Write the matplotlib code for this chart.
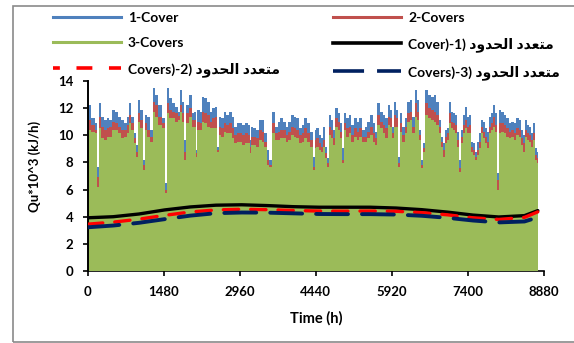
import matplotlib
matplotlib.use("Agg")
import matplotlib.pyplot as plt
from matplotlib.lines import Line2D
from matplotlib.patches import Rectangle
from matplotlib.font_manager import FontProperties

# hourly useful heat gain, peak envelope (Qu * 10^3 kJ/h)
hours = [
    0, 36, 113, 178, 204, 243, 295, 347, 399, 450, 502, 567, 632, 684, 736, 788,
    827, 878, 930, 956, 995, 1047, 1099, 1138, 1190, 1241, 1293, 1345, 1410, 1475,
    1527, 1572, 1617, 1669, 1734, 1773, 1812, 1864, 1903, 1942, 1994, 2058,
    2091, 2123, 2156, 2208, 2253, 2298, 2350, 2402, 2448, 2493, 2532, 2571, 2623,
    2674, 2726, 2778, 2830, 2882, 2934, 2986, 3038, 3089, 3141, 3167, 3193, 3245,
    3297, 3362, 3414, 3465, 3517, 3556, 3621, 3673, 3725, 3777, 3828, 3880, 3932,
    3984, 4036, 4088, 4140, 4192, 4243, 4295,
    4380, 4406, 4432, 4471, 4522, 4574, 4600, 4639, 4678, 4717, 4756, 4795, 4847,
    4886, 4924, 4963, 5002, 5054, 5106, 5158, 5210, 5262, 5313, 5365, 5417, 5469,
    5521, 5573, 5612, 5664, 5715, 5767, 5819, 5858, 5897, 5936, 5975, 6014, 6053,
    6091, 6143, 6195, 6247, 6286, 6338, 6390, 6429, 6467, 6506, 6545,
    6590, 6655, 6707, 6758, 6810, 6849, 6888, 6927, 6966, 7005, 7044, 7083, 7122,
    7173, 7212, 7238, 7277, 7316, 7355, 7394, 7433, 7472, 7511, 7550, 7588, 7627,
    7666, 7705, 7744, 7783, 7822, 7861, 7900, 7938, 7977, 8029, 8068, 8120, 8172,
    8224, 8263, 8315, 8366, 8418, 8457, 8496, 8535, 8574, 8613, 8651, 8690, 8729,
    8760,
]
cover1 = [
    8.90, 12.24, 11.25, 10.88, 7.69, 12.36, 11.38, 11.13, 11.25, 11.13, 11.87, 11.74,
    11.38, 11.13, 10.88, 11.38, 12.36, 11.38, 10.15, 9.29, 12.60, 11.87, 8.18, 11.50,
    11.38, 10.39, 13.46, 12.97, 12.24, 11.25, 6.46, 13.50, 12.73, 12.36, 12.11, 11.74,
    13.34, 12.48, 9.66, 12.24, 12.97, 11.62,
    11.74, 8.92, 11.87, 11.74, 12.85, 12.73, 12.48, 11.74, 11.99, 12.11, 9.16, 11.38,
    11.25, 11.74, 11.50, 11.74, 11.38, 10.64, 10.88, 10.88, 10.76, 10.88, 10.76, 9.66,
    10.64, 10.52, 10.39, 11.13, 11.13, 10.15, 8.92, 8.18, 11.74, 10.64, 11.01, 11.25,
    11.01, 10.64, 11.01, 11.50, 11.38, 11.25, 10.52, 10.76, 11.25, 10.88,
    10.27, 8.43, 10.39, 10.52, 10.02, 9.78, 10.64, 9.16, 8.30, 11.50, 11.13, 10.39,
    11.99, 11.62, 10.88, 9.04, 11.62, 11.25, 11.50, 10.76, 11.25, 11.01, 11.25, 10.39,
    10.64, 11.01, 11.50, 10.88, 10.27, 12.36, 11.74, 11.50, 11.25, 12.24, 11.87, 10.64,
    12.48, 11.87, 8.43, 11.62, 10.64, 11.25, 12.48, 12.60, 11.38, 13.34, 12.60, 10.39,
    8.18, 9.41,
    13.34, 12.97, 12.85, 12.97, 12.48, 11.13, 9.90, 9.41, 10.39, 10.52, 12.48, 11.74,
    11.62, 11.50, 10.27, 8.18, 10.39, 11.50, 12.11, 11.38, 11.50, 9.53, 9.41, 8.80,
    9.53, 10.15, 11.13, 11.01, 10.52, 10.27, 11.38, 11.62, 12.24, 11.62, 7.20, 11.87,
    11.74, 11.50, 11.25, 10.88, 11.01, 10.88, 11.25, 11.13, 10.39, 10.02, 11.13, 10.76,
    10.64, 10.15, 10.88, 9.04, 8.80,
]
cover2 = [
    8.50, 11.13, 10.76, 10.39, 6.95, 11.38, 10.64, 10.39, 10.52, 10.64, 11.00, 10.88,
    10.64, 10.39, 10.39, 10.76, 11.50, 10.88, 9.78, 8.80, 11.62, 11.13, 7.81, 10.88,
    10.39, 9.90, 12.48, 12.24, 11.38, 10.88, 5.97, 12.36, 11.87, 11.74, 11.62, 11.45,
    12.24, 11.62, 8.80, 11.62, 11.99, 11.13,
    11.13, 8.67, 11.01, 10.88, 11.74, 11.62, 11.50, 11.01, 11.25, 11.38, 8.92, 10.64,
    10.52, 10.88, 10.76, 10.88, 10.52, 10.02, 10.15, 10.15, 10.02, 10.15, 10.02, 9.16,
    9.90, 9.90, 9.78, 10.39, 10.27, 9.53, 8.18, 7.81, 10.88, 10.15, 10.27, 10.39,
    10.39, 10.02, 10.27, 10.64, 10.52, 10.39, 10.02, 10.15, 10.52, 10.15,
    9.66, 7.69, 9.66, 9.78, 9.41, 9.16, 9.66, 8.67, 7.94, 10.64, 10.39, 9.78,
    11.25, 11.01, 10.27, 8.18, 10.88, 10.52, 10.64, 10.02, 10.52, 10.27, 10.52, 9.90,
    9.90, 10.27, 10.64, 10.15, 9.78, 11.50, 11.01, 10.76, 10.52, 11.38, 11.25, 10.15,
    11.50, 11.25, 7.94, 10.88, 10.02, 10.64, 11.62, 11.74, 10.64, 12.36, 11.74, 10.02,
    7.81, 9.04,
    12.36, 11.99, 11.87, 11.74, 11.50, 10.64, 9.53, 8.92, 9.90, 10.15, 11.62, 11.01,
    10.88, 10.76, 9.66, 7.57, 9.90, 10.76, 11.13, 10.64, 10.76, 9.16, 8.92, 8.43,
    8.92, 9.53, 10.64, 10.27, 9.90, 9.53, 10.64, 10.88, 11.38, 10.76, 6.71, 10.88,
    10.88, 10.76, 10.52, 10.27, 10.39, 10.15, 10.52, 10.39, 9.78, 9.41, 10.39, 10.15,
    10.02, 9.66, 10.15, 8.55, 8.30,
]
cover3 = [
    8.00, 10.39, 10.27, 10.15, 6.22, 10.52, 9.78, 9.66, 9.90, 9.90, 10.39, 10.39,
    10.15, 9.78, 9.90, 10.15, 10.88, 10.39, 9.41, 8.43, 11.00, 10.52, 7.44, 10.39,
    9.90, 9.53, 11.74, 11.38, 10.76, 10.52, 5.72, 11.62, 11.25, 11.25, 11.00, 11.10,
    11.74, 11.00, 8.18, 10.88, 11.38, 10.64,
    10.64, 8.43, 10.39, 10.39, 11.01, 10.88, 10.64, 10.52, 10.52, 10.52, 8.80, 10.02,
    9.90, 10.27, 10.15, 10.15, 9.78, 9.41, 9.53, 9.53, 9.29, 9.41, 9.41, 8.67,
    9.29, 9.29, 9.16, 9.66, 9.53, 9.16, 7.81, 7.69, 10.15, 9.66, 9.66, 9.78,
    9.78, 9.53, 9.66, 10.02, 9.90, 9.78, 9.41, 9.53, 9.78, 9.53,
    9.16, 7.44, 9.04, 9.16, 8.92, 8.80, 9.16, 8.30, 7.69, 10.02, 9.78, 9.29,
    10.64, 10.39, 9.78, 7.94, 10.39, 9.90, 10.15, 9.53, 9.90, 9.66, 9.90, 9.53,
    9.53, 9.78, 10.02, 9.53, 9.29, 10.76, 10.52, 10.15, 9.78, 10.76, 10.64, 9.78,
    10.64, 10.64, 7.69, 10.27, 9.53, 10.15, 11.01, 11.13, 10.15, 11.38, 11.13, 9.66,
    7.57, 8.80,
    11.50, 11.25, 11.13, 11.01, 10.76, 10.15, 9.16, 8.43, 9.41, 9.66, 10.88, 10.52,
    10.39, 10.15, 9.16, 7.32, 9.41, 10.15, 10.52, 10.15, 10.15, 8.80, 8.55, 8.18,
    8.55, 9.04, 10.15, 9.78, 9.41, 9.04, 10.15, 10.39, 10.64, 10.27, 5.97, 10.15,
    10.27, 10.15, 9.90, 9.78, 9.90, 9.66, 10.02, 9.90, 9.29, 8.80, 9.90, 9.66,
    9.53, 9.16, 9.66, 8.18, 7.94,
]

# polynomial trend lines of the full hourly series
trend_hours = [0, 500, 1000, 1500, 2000, 2500, 3000, 3500, 4000, 4500,
               5000, 5500, 6000, 6500, 7000, 7500, 8000, 8500, 8760]
trend1 = [3.92, 4.00, 4.20, 4.50, 4.72, 4.85, 4.88, 4.82, 4.74, 4.70,
          4.70, 4.70, 4.64, 4.52, 4.34, 4.12, 3.98, 4.08, 4.45]
trend2 = [3.45, 3.60, 3.82, 4.10, 4.35, 4.50, 4.55, 4.52, 4.46, 4.42,
          4.41, 4.42, 4.40, 4.30, 4.14, 3.92, 3.80, 3.95, 4.36]
trend3 = [3.22, 3.35, 3.55, 3.82, 4.08, 4.26, 4.31, 4.30, 4.25, 4.20,
          4.19, 4.19, 4.16, 4.07, 3.92, 3.72, 3.58, 3.65, 3.95]

series_names = ["1-Cover", "2-Covers", "3-Covers"]
trend_names = ["Cover)-1)", "Covers)-2)", "Covers)-3)"]
poly_word = "متعدد الحدود"

xticks = [0, 1480, 2960, 4440, 5920, 7400, 8880]
yticks = [0, 2, 4, 6, 8, 10, 12, 14]

BLUE = "#4F81BD"
RED = "#C0504D"
GREEN = "#9BBB59"

# Arabic presentation forms: isolated, final, initial, medial
FORMS = {
    "\u0627": ("\uFE8D", "\uFE8E", None, None),
    "\u062A": ("\uFE95", "\uFE96", "\uFE97", "\uFE98"),
    "\u062D": ("\uFEA1", "\uFEA2", "\uFEA3", "\uFEA4"),
    "\u062F": ("\uFEA9", "\uFEAA", None, None),
    "\u0639": ("\uFEC9", "\uFECA", "\uFECB", "\uFECC"),
    "\u0644": ("\uFEDD", "\uFEDE", "\uFEDF", "\uFEE0"),
    "\u0645": ("\uFEE1", "\uFEE2", "\uFEE3", "\uFEE4"),
    "\u0648": ("\uFEED", "\uFEEE", None, None),
}


def shape_arabic(text):
    # matplotlib lays text out left to right without joining, so pick the
    # contextual glyphs here and return them in visual order
    out = []
    for i, ch in enumerate(text):
        forms = FORMS.get(ch)
        if forms is None:
            out.append(ch)
            continue
        prev = text[i - 1] if i > 0 else ""
        nxt = text[i + 1] if i + 1 < len(text) else ""
        joins_prev = prev in FORMS and FORMS[prev][2] is not None
        joins_next = forms[2] is not None and nxt in FORMS
        if joins_prev and joins_next:
            out.append(forms[3])
        elif joins_prev:
            out.append(forms[1])
        elif joins_next:
            out.append(forms[2])
        else:
            out.append(forms[0])
    return "".join(reversed(out))


plt.rcParams["font.family"] = ["Lato", "DejaVu Sans"]
plt.rcParams["font.weight"] = "bold"

W, H = 574, 343
fig = plt.figure(figsize=(W / 100, H / 100), dpi=100)
ax = fig.add_axes([87.5 / W, 1 - 271 / H, 456.5 / W, 190 / H])

for vals, color in zip([cover1, cover2, cover3], [BLUE, RED, GREEN]):
    ax.fill_between(hours, vals, 0, step="mid", color=color, lw=0, zorder=1)

ax.plot(trend_hours, trend1, color="black", lw=2.4, zorder=4,
        solid_capstyle="round")
ax.plot(trend_hours, trend2, color="#FF0000", lw=2.4, zorder=4,
        linestyle=(0, (4.6, 3.6)), dash_capstyle="round")
ax.plot(trend_hours, trend3, color="#002060", lw=2.8, zorder=4,
        linestyle=(0, (8.2, 3.6)), dash_capstyle="round")

ax.set_xlim(0, 8880)
ax.set_ylim(0, 14)
ax.set_xticks(xticks)
ax.set_yticks(yticks)
ax.tick_params(axis="both", direction="out", length=3.6, width=1.2,
               colors="black", labelsize=9.5)
ax.tick_params(axis="y", pad=6.5)
ax.tick_params(axis="x", pad=7.5)
for side in ["top", "right"]:
    ax.spines[side].set_visible(False)
ax.spines["left"].set_linewidth(1.4)
ax.spines["bottom"].set_linewidth(1.2)
ax.spines["bottom"].set_zorder(0.5)
ax.set_facecolor("white")

fig.text(316 / W, 1 - 318 / H, "Time (h)", ha="center", va="center",
         fontsize=10.5, fontweight="bold")
fig.text(35 / W, 1 - 166 / H, "Qu*10^3 (kJ/h)", ha="center", va="center",
         rotation=90, fontsize=9.5, fontweight="bold")

# legend, two columns placed separately
labels = series_names + [f"{n} {shape_arabic(poly_word)}" for n in trend_names]
handles = [
    Line2D([], [], color=BLUE, lw=2.2),
    Line2D([], [], color=RED, lw=2.2),
    Line2D([], [], color=GREEN, lw=2.2),
    Line2D([], [], color="black", lw=2.6),
    Line2D([], [], color="#FF0000", lw=2.6, linestyle=(2.5, (4.4, 4.6))),
    Line2D([], [], color="#002060", lw=2.6, linestyle=(0, (8.6, 3.6))),
]
prop = FontProperties(family=["Lato", "DejaVu Sans"], weight="bold", size=10)
columns = [([0, 2, 4], 53), ([1, 3, 5], 333)]
for idx, x0 in columns:
    fig.legend([handles[i] for i in idx], [labels[i] for i in idx],
               loc="upper left", bbox_to_anchor=(x0 / W, 1 - 11.5 / H),
               frameon=False, prop=prop, borderpad=0, borderaxespad=0,
               handlelength=4.9, handletextpad=0.5, labelspacing=0.96)

fig.add_artist(Rectangle((12.5 / W, 1.5 / H), 575 / W, 336 / H,
                         transform=fig.transFigure, fill=False,
                         edgecolor="#8A8A8A", lw=1.2))

fig.savefig("out.png", dpi=100)
